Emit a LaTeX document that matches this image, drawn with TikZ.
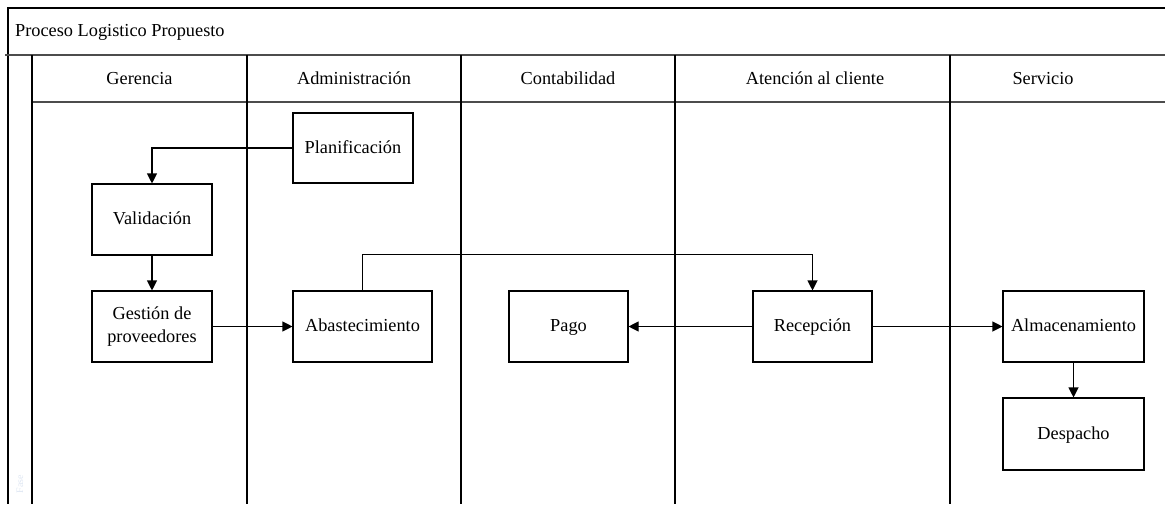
\documentclass[tikz,border=0pt]{standalone}
\usepackage{fontspec}
\setmainfont{Liberation Serif}
\usetikzlibrary{arrows.meta}
\definecolor{ghost}{RGB}{222,230,242}
\begin{document}
\begin{tikzpicture}[x=1pt,y=-1pt,
  lane/.style={line width=1.4pt,black},
  rule/.style={line width=2pt,black!70},
  task/.style={draw,line width=1.1pt,fill=white,inner sep=0pt,align=center,
               font=\fontsize{18.3}{22}\selectfont},
  oneline/.style={task,text height=13.5pt,text depth=3pt},
  flow/.style={line width=1.1pt,-{Triangle[length=10pt,width=10pt]}},
  lbl/.style={font=\fontsize{18.3}{22}\selectfont,inner sep=0pt,
              text height=13.5pt,text depth=3pt}]
\useasboundingbox (0,0) rectangle (1165,504);

% pool frame and lanes
\draw[lane] (1165,8) -- (8,8) -- (8,504);
\draw[rule] (5,55) -- (1165,55);
\draw[rule] (32,102) -- (1165,102);
\foreach \x in {32,247,461,675,950}
  \draw[lane] (\x,55) -- (\x,504);

% titles
\node[lbl,anchor=west] (title) at (15,31) {Proceso Logistico Propuesto};
\node[lbl] (h1) at (139.5,79) {Gerencia};
\node[lbl] (h2) at (354,79) {Administración};
\node[lbl] (h3) at (568,79) {Contabilidad};
\node[lbl] (h4) at (815,79) {Atención al cliente};
\node[lbl] (h5) at (1043,79) {Servicio};
\node[rotate=90,text=ghost,font=\fontsize{10}{12}\selectfont] (phase) at (20,484) {Fase};

% tasks
\node[oneline,minimum width=120pt,minimum height=70pt] (plan) at (353,148) {Planificación};
\node[oneline,minimum width=120pt,minimum height=71pt] (valid) at (152,219.5) {Validación};
\node[task,minimum width=120pt,minimum height=71pt] (gest) at (152,326.5) {Gestión de\\[0.5pt]proveedores};
\node[oneline,minimum width=139pt,minimum height=71pt] (abas) at (362.5,326.5) {Abastecimiento};
\node[oneline,minimum width=119pt,minimum height=71pt] (pago) at (568.5,326.5) {Pago};
\node[oneline,minimum width=119pt,minimum height=71pt] (recep) at (812.5,326.5) {Recepción};
\node[oneline,minimum width=141pt,minimum height=71pt] (alma) at (1073.5,326.5) {Almacenamiento};
\node[oneline,minimum width=141pt,minimum height=72pt] (desp) at (1073.5,434) {Despacho};

% flows
\draw[flow] (plan.west) -| (valid.north);
\draw[flow] (valid.south) -- (gest.north);
\draw[flow] (gest.east) -- (abas.west);
\draw[flow] (abas.north) -- ++(0,-36) -| (recep.north);
\draw[flow] (recep.west) -- (pago.east);
\draw[flow] (recep.east) -- (alma.west);
\draw[flow] (alma.south) -- (desp.north);
\end{tikzpicture}
\end{document}
